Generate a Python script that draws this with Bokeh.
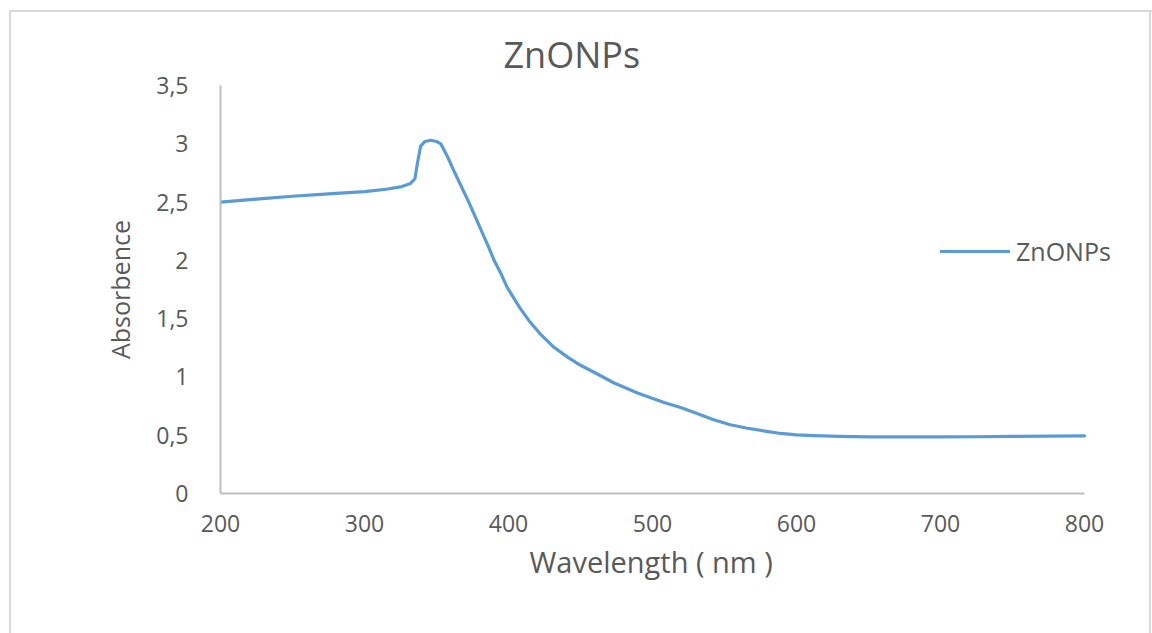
from bokeh.plotting import figure
from bokeh.models import Range1d, Legend, LegendItem, FixedTicker, Title
from bokeh.embed import file_html
from bokeh.resources import INLINE

wavelength = [200, 225, 250, 275, 300, 315, 325, 332, 335, 337, 339, 342, 346, 350,
              353, 358, 362, 367, 372, 376, 381, 386, 390, 395, 399, 404, 408, 415,
              422, 431, 441, 450, 464, 473, 490, 508, 519, 530, 542, 554, 566, 578,
              589, 600, 612, 630, 650, 675, 700, 725, 750, 775, 800]
absorbance = [2.50, 2.525, 2.55, 2.57, 2.59, 2.61, 2.63, 2.66, 2.70, 2.85, 2.98, 3.02,
              3.03, 3.02, 3.00, 2.88, 2.77, 2.64, 2.51, 2.40, 2.26, 2.12, 2.00, 1.88,
              1.77, 1.67, 1.59, 1.47, 1.37, 1.26, 1.17, 1.10, 1.01, 0.95, 0.86, 0.78,
              0.74, 0.69, 0.635, 0.59, 0.56, 0.535, 0.515, 0.503, 0.497, 0.49, 0.485,
              0.485, 0.485, 0.487, 0.49, 0.492, 0.495]
series_name = "ZnONPs"
x_label = "Wavelength ( nm )"
y_label = "Absorbence"
x_ticks = [200, 300, 400, 500, 600, 700, 800]
y_ticks = [0, 0.5, 1, 1.5, 2, 2.5, 3, 3.5]
y_tick_labels = ["0", "0,5", "1", "1,5", "2", "2,5", "3", "3,5"]
x_axis_bounds = (200, 800)

FONT = "Open Sans"
TXT = "#595959"
AX = "#bfbfbf"
BORDER = "#d9d9d9"

# frame spans 220..1140 px; the axis itself is bounded to 200..800 nm (220..1084 px)
PX_PER_NM = 864 / 600
x_end = 200 + 920 / PX_PER_NM

p = figure(width=1152, height=633, output_backend="svg", toolbar_location=None,
           x_range=Range1d(200, x_end), y_range=Range1d(0, 3.5),
           min_border_left=220, min_border_right=12, min_border_top=85,
           min_border_bottom=140)
p.outline_line_color = None
p.grid.visible = False
p.background_fill_color = "white"
p.border_fill_alpha = 0

# outer chart-area border drawn behind the (transparent) canvas border
g = f"linear-gradient({BORDER},{BORDER})"
p.styles = {
    "background": (f"{g} 10px 10px / 1142px 2px no-repeat, "
                   f"{g} 9px 10px / 2px 700px no-repeat, "
                   f"{g} 1149px 10px / 2px 700px no-repeat, white"),
}

# title
p.title.text = series_name
p.title.text_font = FONT
p.title.text_font_size = "36px"
p.title.text_font_style = "normal"
p.title.text_color = TXT
p.title.align = "left"
p.title.offset = 283
p.title.standoff = 14

# x axis
xa = p.xaxis[0]
xa.bounds = x_axis_bounds
xa.ticker = FixedTicker(ticks=x_ticks)
xa.major_label_text_font = FONT
xa.major_label_text_font_size = "23px"
xa.major_label_text_color = TXT
xa.major_label_standoff = 15
xa.axis_line_color = AX
xa.axis_line_width = 2
xa.major_tick_line_color = None
xa.minor_tick_line_color = None

# x axis title, centred under the 200..800 axis
xt = Title(text=x_label, text_font=FONT, text_font_size="29px",
           text_font_style="normal", text_color=TXT, align="left",
           offset=309, standoff=10)
p.add_layout(xt, "below")

# y axis
ya = p.yaxis[0]
ya.ticker = FixedTicker(ticks=y_ticks)
ya.major_label_overrides = {t: l for t, l in zip(y_ticks, y_tick_labels)}
ya.axis_label = y_label
ya.axis_label_text_font = FONT
ya.axis_label_text_font_size = "25px"
ya.axis_label_text_font_style = "normal"
ya.axis_label_text_color = TXT
ya.axis_label_standoff = 16
ya.major_label_text_font = FONT
ya.major_label_text_font_size = "23px"
ya.major_label_text_color = TXT
ya.major_label_standoff = 26
ya.axis_line_color = AX
ya.axis_line_width = 2
ya.major_tick_line_color = None
ya.minor_tick_line_color = None

r = p.line(wavelength, absorbance, line_color="#5B9BD5", line_width=3.2,
           line_join="round", line_cap="round")

legend = Legend(items=[LegendItem(label=series_name, renderers=[r])],
                location=(720, 225), orientation="vertical",
                label_text_font=FONT, label_text_font_size="25px",
                label_text_color=TXT, glyph_width=70, glyph_height=20,
                background_fill_alpha=0, border_line_color=None,
                padding=0, margin=0, spacing=0, label_standoff=6)
p.add_layout(legend, "center")

open("out.html", "w").write(file_html(p, INLINE))
